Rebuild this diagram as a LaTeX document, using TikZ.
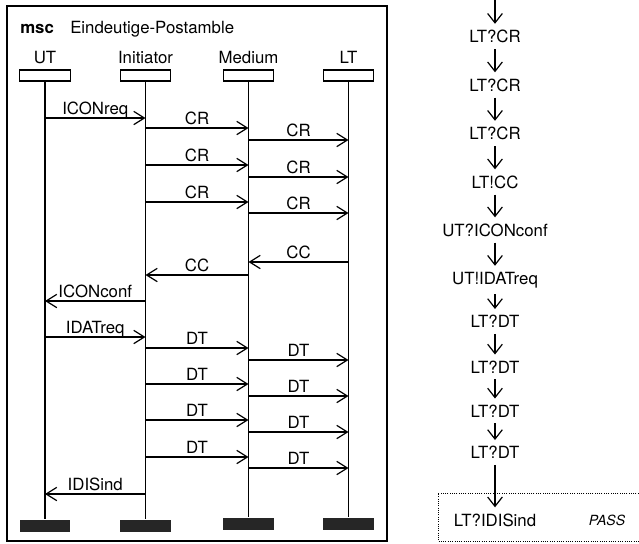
\documentclass[tikz,border=0pt]{standalone}
\usepackage{fontspec}
\setmainfont{TeX Gyre Heros}
\usetikzlibrary{arrows.meta,positioning}

\begin{document}
\begin{tikzpicture}[
  x=0.75pt,
  y=-0.75pt,
  every node/.style={font=\fontsize{12.6}{15}\selectfont},
  head/.style={draw, line width=0.9pt, minimum width=38pt, minimum height=8.25pt, inner sep=0pt},
  foot/.style={fill=black!85, minimum width=38pt, minimum height=9pt, inner sep=0pt},
  life/.style={line width=0.9pt},
  msg/.style={line width=0.9pt, -{Straight Barb[length=8pt, width=10pt]}},
  msglab/.style={above, inner sep=2pt, text depth=0pt},
  stepnode/.style={inner sep=4.5pt},
  steparrow/.style={line width=0.9pt, -{Straight Barb[length=7pt, width=11pt]}},
]
\useasboundingbox (0,0) rectangle (639,543);

% Frame and title.
\draw[line width=1.2pt] (7,6) rectangle (387,541);
\node[anchor=base west, inner sep=0pt, font=\fontsize{12.6}{15}\selectfont\bfseries] (kind) at (20,33) {msc};
\node[anchor=base west, inner sep=0pt] (title) at (70,33) {Eindeutige-Postamble};

% Instance heads.
\node[head, label={[label distance=1pt]above:UT}] (ut) at (45,75.5) {};
\node[head, label={[label distance=1pt]above:Initiator}] (init) at (145.5,75.5) {};
\node[head, label={[label distance=1pt]above:Medium}] (med) at (248.5,75.5) {};
\node[head, label={[label distance=1pt]above:LT}] (lt) at (348.5,75.5) {};

% Instance ends.
\node[foot] (utend) at (45,525.5) {};
\node[foot] (initend) at (145.5,525.5) {};
\node[foot] (medend) at (248.5,523.5) {};
\node[foot] (ltend) at (348.5,523.5) {};

% Lifelines.
\draw[life] (ut) -- (utend);
\draw[life] (init) -- (initend);
\draw[life] (med) -- (medend);
\draw[life] (lt) -- (ltend);

% Helper macro: from instance, to instance, y, message name.
\newcommand{\msg}[4]{%
  \draw[msg] (#1 |- 0,#3) -- node[msglab] {#4} (#2 |- 0,#3);
}

% Connection set-up.
\msg{ut}{init}{118}{ICONreq}
\msg{init}{med}{128}{CR}
\msg{med}{lt}{140}{CR}
\msg{init}{med}{165}{CR}
\msg{med}{lt}{177}{CR}
\msg{init}{med}{202}{CR}
\msg{med}{lt}{213}{CR}
\msg{lt}{med}{262}{CC}
\msg{med}{init}{275}{CC}
\msg{init}{ut}{301}{ICONconf}

% Data transfer and release.
\msg{ut}{init}{337}{IDATreq}
\msg{init}{med}{348}{DT}
\msg{med}{lt}{360}{DT}
\msg{init}{med}{384}{DT}
\msg{med}{lt}{396}{DT}
\msg{init}{med}{420}{DT}
\msg{med}{lt}{432}{DT}
\msg{init}{med}{457}{DT}
\msg{med}{lt}{468}{DT}
\msg{init}{ut}{494}{IDISind}

% Event sequence on the right.
\coordinate (entry) at (495,0);
\node[stepnode] (s1) at (495,36.5) {LT?CR};
\node[stepnode] (s2) at (495,85) {LT?CR};
\node[stepnode] (s3) at (495,133.5) {LT?CR};
\node[stepnode] (s4) at (495,182) {LT!CC};
\node[stepnode] (s5) at (495,230) {UT?ICONconf};
\node[stepnode] (s6) at (495,280) {UT!IDATreq};
\node[stepnode] (s7) at (495,321.5) {LT?DT};
\node[stepnode] (s8) at (495,367) {LT?DT};
\node[stepnode] (s9) at (495,411) {LT?DT};
\node[stepnode] (s10) at (495,452.5) {LT?DT};
\node[stepnode] (s11) at (495,520) {LT?IDISind};
\node[font=\fontsize{10.5}{12}\selectfont\itshape] (verdict) at (607,520) {PASS};

\draw[steparrow] (entry) -- (s1);
\draw[steparrow] (s1) -- (s2);
\draw[steparrow] (s2) -- (s3);
\draw[steparrow] (s3) -- (s4);
\draw[steparrow] (s4) -- (s5);
\draw[steparrow] (s5) -- (s6);
\draw[steparrow] (s6) -- (s7);
\draw[steparrow] (s7) -- (s8);
\draw[steparrow] (s8) -- (s9);
\draw[steparrow] (s9) -- (s10);
\draw[steparrow] (s10) -- (s11);

% Verdict box, open to the right.
\draw[densely dotted, line width=0.7pt] (650,493) -| (438,541) -- (650,541);

\end{tikzpicture}
\end{document}
